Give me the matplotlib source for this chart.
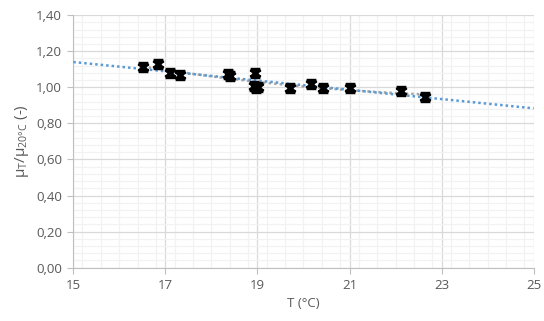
import matplotlib.pyplot as plt
import numpy as np
from matplotlib.path import Path
from matplotlib.ticker import FuncFormatter, MultipleLocator

temp = [16.52, 16.84, 17.10, 17.32, 18.37, 18.41, 18.95, 18.93, 18.97, 19.01,
        19.71, 20.17, 20.42, 21.02, 22.11, 22.64]
ratio = [1.110, 1.128, 1.078, 1.070, 1.073, 1.060, 1.078, 1.005, 0.998, 1.002,
         0.998, 1.016, 0.996, 0.996, 0.978, 0.946]

x_ticks = [15, 17, 19, 21, 23, 25]
y_ticks = [0.0, 0.2, 0.4, 0.6, 0.8, 1.0, 1.2, 1.4]

plt.rcParams["font.family"] = ["Open Sans", "DejaVu Sans"]
plt.rcParams["mathtext.fontset"] = "custom"
plt.rcParams["mathtext.rm"] = "Open Sans"
plt.rcParams["mathtext.it"] = "Open Sans"

fig = plt.figure(figsize=(5.44, 3.21), dpi=100)
ax = fig.add_axes([0.1347, 0.166, 0.8463, 0.787])

txt = "#595959"

# trend lines
x_arr = np.array(temp)
y_arr = np.array(ratio)
lin = np.polyfit(x_arr, y_arr, 1)
xl = np.linspace(15, 25, 50)
ax.plot(xl, np.polyval(lin, xl), color="#5b9bd5", linestyle=(0, (1, 1.2)),
        linewidth=1.8, zorder=3)
quad = np.polyfit(x_arr, y_arr, 2)
xq = np.linspace(min(temp), max(temp), 50)
ax.plot(xq, np.polyval(quad, xq), color="#a5a5a5", linestyle=(0, (1, 1.2)),
        linewidth=1.8, zorder=2)

# X marker with bars top and bottom
verts = [(-1, -0.8), (1, 0.8), (-1, 0.8), (1, -0.8),
         (-1, 0.8), (1, 0.8), (-1, -0.8), (1, -0.8)]
codes = [Path.MOVETO, Path.LINETO] * 4
mk = Path(verts, codes)
ax.plot(temp, ratio, linestyle="none", marker=mk, markersize=7,
        markeredgewidth=2.6, color="black", zorder=4)

ax.set_xlim(15, 25)
ax.set_ylim(0, 1.4)
ax.set_xticks(x_ticks)
ax.set_yticks(y_ticks)
ax.xaxis.set_minor_locator(MultipleLocator(0.4))
ax.yaxis.set_minor_locator(MultipleLocator(0.04))
ax.yaxis.set_major_formatter(FuncFormatter(lambda v, p: f"{v:.2f}".replace(".", ",")))
ax.xaxis.set_major_formatter(FuncFormatter(lambda v, p: f"{v:.0f}"))

ax.grid(True, which="major", color="#d9d9d9", linewidth=0.9)
ax.grid(True, which="minor", color="#f2f2f2", linewidth=0.9)
ax.set_axisbelow(True)

for s in ["top", "right"]:
    ax.spines[s].set_visible(False)
for s in ["left", "bottom"]:
    ax.spines[s].set_color("#bfbfbf")

ax.tick_params(which="major", direction="out", length=4, color="#bfbfbf",
               labelsize=9.5, labelcolor=txt, pad=4)
ax.tick_params(which="minor", length=0)

ax.set_xlabel("T (°C)", fontsize=9.5, color=txt, labelpad=4)
ax.set_ylabel(r"$\mu_T/\mu_{20°C}$ (-)", fontsize=11, color=txt, labelpad=4)

fig.savefig("out.png", dpi=100)
